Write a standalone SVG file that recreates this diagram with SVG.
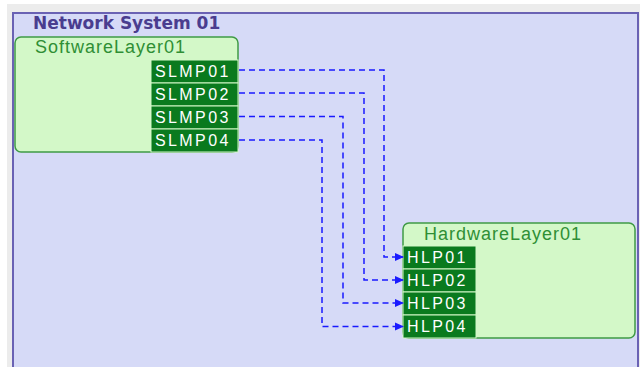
<svg xmlns="http://www.w3.org/2000/svg" width="640" height="367" viewBox="0 0 640 367">
<style>
.node{fill:#d3f8c8;stroke:#3f9a45;stroke-width:1.5}
.port{fill:#0a7a1e;stroke:#d3f8c8;stroke-width:1}
.ptxt{font-family:"Liberation Sans",Arial,sans-serif;font-size:16px;fill:#ffffff;letter-spacing:2.4px}
.ntxt{font-family:"Liberation Sans",Arial,sans-serif;font-size:18px;fill:#2f8f35;letter-spacing:1px}
.conn{fill:none;stroke:#1a1aff;stroke-width:1.5;stroke-dasharray:6,4}
</style>
<defs>
<marker id="arr" markerWidth="10" markerHeight="10" refX="8" refY="5" orient="auto" markerUnits="userSpaceOnUse">
<path d="M0,1 L9,5 L0,9 Z" fill="#1a1aff"/>
</marker>
</defs>
<rect x="0" y="0" width="640" height="367" fill="#ffffff"/>
<rect x="7" y="4" width="633" height="363" fill="#ececec"/>
<g id="system">
<rect x="13" y="13" width="625" height="360" fill="#d6daf7" stroke="#6a62b4" stroke-width="2"/>
<text x="33" y="29" font-family="DejaVu Sans,Verdana,sans-serif" font-weight="bold" font-size="17" fill="#4a3d8f">Network System 01</text>
</g>
<g id="SoftwareLayer01">
<rect class="node" x="15" y="37" width="223" height="115" rx="6"/>
<text class="ntxt" x="35" y="53">SoftwareLayer01</text>
<rect class="port" x="151" y="60" width="87" height="23"/>
<text class="ptxt" x="155" y="77">SLMP01</text>
<rect class="port" x="151" y="83" width="87" height="23"/>
<text class="ptxt" x="155" y="100">SLMP02</text>
<rect class="port" x="151" y="106" width="87" height="23"/>
<text class="ptxt" x="155" y="123">SLMP03</text>
<rect class="port" x="151" y="129" width="87" height="23"/>
<text class="ptxt" x="155" y="146">SLMP04</text>
</g>
<g id="HardwareLayer01">
<rect class="node" x="403" y="223" width="232" height="115" rx="6"/>
<text class="ntxt" x="424" y="240">HardwareLayer01</text>
<rect class="port" x="403" y="246" width="73" height="23"/>
<text class="ptxt" x="407" y="263">HLP01</text>
<rect class="port" x="403" y="269" width="73" height="23"/>
<text class="ptxt" x="407" y="286">HLP02</text>
<rect class="port" x="403" y="292" width="73" height="23"/>
<text class="ptxt" x="407" y="309">HLP03</text>
<rect class="port" x="403" y="315" width="73" height="23"/>
<text class="ptxt" x="407" y="332">HLP04</text>
</g>
<g id="connectors">
<path class="conn" d="M239,70 H384 V257 H403" marker-end="url(#arr)"/>
<path class="conn" d="M239,93 H364 V280 H403" marker-end="url(#arr)"/>
<path class="conn" d="M239,116.5 H343 V303 H403" marker-end="url(#arr)"/>
<path class="conn" d="M239,140 H322 V326.5 H403" marker-end="url(#arr)"/>
</g>
</svg>
